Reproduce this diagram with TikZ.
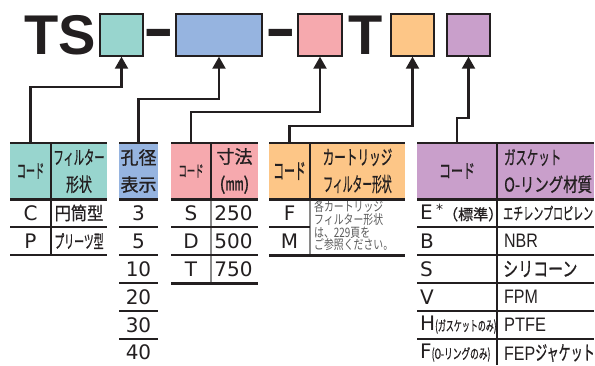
\documentclass[tikz,border=0pt]{standalone}
\usepackage{fontspec}
\usepackage{graphicx}
\setmainfont{DejaVu Sans}
\newfontfamily\jpl{Noto Sans CJK JP}
\newfontfamily\jp{Noto Sans CJK JP}[FakeBold=0.9]
\newfontfamily\arial{Liberation Sans}
\usetikzlibrary{arrows.meta}
\newcommand{\cnd}[2]{\scalebox{#1}[1]{#2}}
\definecolor{cline}{HTML}{231F20}
\definecolor{cgray}{HTML}{8A8A8A}
\definecolor{cteal}{HTML}{98D5CE}
\definecolor{cblue}{HTML}{96B4E0}
\definecolor{cpink}{HTML}{F6A9AE}
\definecolor{corange}{HTML}{FDC687}
\definecolor{cpurple}{HTML}{C99FCB}
\definecolor{cnote}{HTML}{5A5A5A}
\begin{document}
\begin{tikzpicture}[x=1pt,y=-1pt,
  topbox/.style={draw=cline, line width=1.4pt, inner sep=0, minimum height=42pt},
  ttl/.style={font=\arial\bfseries\fontsize{56}{56}\selectfont, text=cline, inner sep=0},
  hyph/.style={font=\arial\bfseries\fontsize{40}{40}\selectfont, text=cline, inner sep=0, anchor=base},
  conn/.style={draw=cline, line width=2.2pt, -{Triangle[width=13pt,length=12pt]}},
  hcell/.style={inner sep=0, minimum height=56pt, text=cline},
  hjp/.style={font=\jp\fontsize{#1}{27}\selectfont, text=cline, inner sep=0, align=center},
  lat/.style={font=\fontsize{20}{20}\selectfont, text=cline, inner sep=0},
  jpc/.style={font=\jp\fontsize{#1}{#1}\selectfont, text=cline, inner sep=0},
  nar/.style={font=\arial\fontsize{19.5}{19.5}\selectfont, text=cline, inner sep=0},
  topline/.style={draw=cline, line width=2.2pt},
  hbot/.style={draw=cline, line width=3pt},
  rsep/.style={draw=cline, line width=1.1pt},
  divd/.style={draw=cline, line width=1.1pt},
  divg/.style={draw=cgray, line width=1.1pt},
  notetxt/.style={font=\jpl\fontsize{13}{12.9}\selectfont, text=cnote, inner sep=0, align=left}
]
\useasboundingbox (0,0) rectangle (595,365);

% ---- code line ----
\node[ttl] (ts) at (60,35) {TS};
\node[topbox, fill=cteal, minimum width=43pt] (bt) at (121.5,35) {};
\node[hyph] (h1) at (159,48) {\scalebox{2.3}[1.5]{-}};
\node[topbox, fill=cblue, minimum width=86pt] (bb) at (219,35) {};
\node[hyph] (h2) at (281,48) {\scalebox{2.3}[1.5]{-}};
\node[topbox, fill=cpink, minimum width=44pt] (bp) at (320,35) {};
\node[ttl] (tt) at (366,35) {T};
\node[topbox, fill=corange, minimum width=43pt] (bo) at (412.5,35) {};
\node[topbox, fill=cpurple, minimum width=43pt] (bv) at (468.5,35) {};

% ---- header cells ----
\node[hcell, fill=cteal, minimum width=41pt] (tc1) at (30.5,171) {};
\node[hcell, fill=cteal, minimum width=56pt] (tc2) at (79,171) {};
\node[hcell, fill=cblue, minimum width=39pt] (bh) at (138.5,171) {};
\node[hcell, fill=cpink, minimum width=40pt] (pc1) at (191,171) {};
\node[hcell, fill=cpink, minimum width=47pt] (pc2) at (234.5,171) {};
\node[hcell, fill=corange, minimum width=41pt] (oc1) at (289.5,171) {};
\node[hcell, fill=corange, minimum width=95pt] (oc2) at (357.5,171) {};
\node[hcell, fill=cpurple, minimum width=80pt] (vc1) at (457,171) {};
\node[hcell, fill=cpurple, minimum width=97pt] (vc2) at (545.5,171) {};

% header texts
\node[hjp=19] (tt1) at (tc1) {\cnd{0.48}{コード}};
\node[hjp=19] (tt2) at (tc2) {\cnd{0.54}{フィルター}\\\cnd{0.68}{形状}};
\node[hjp=18] (bt1) at (bh) {孔径\\表示};
\node[hjp=16] (pt1) at (pc1) {\cnd{0.52}{コード}};
\node[hjp=18] (pt2) at (pc2) {寸法\\(㎜)};
\node[hjp=22] (ot1) at (oc1) {\cnd{0.49}{コード}};
\node[hjp=20] (ot2) at (oc2) {\cnd{0.58}{カートリッジ}\\\cnd{0.49}{フィルター形状}};
\node[hjp=19] (vt1) at (vc1) {\cnd{0.63}{コード}};
\node[hjp=19, align=left, anchor=west] (vt2) at (504,171) {\cnd{0.6}{ガスケット}\\\cnd{0.76}{O-リング材質}};

% ---- rules ----
\draw[topline] (10,143) -- (107,143);
\draw[topline] (119,143) -- (158,143);
\draw[topline] (171,143) -- (258,143);
\draw[topline] (269,143) -- (405,143);
\draw[topline] (417,143) -- (594,143);
\draw[divd] (51,143) -- (51,255);
\draw[divd] (211,143) -- (211,199);
\draw[divg] (211,199) -- (211,283);
\draw[divd] (310,143) -- (310,199);
\draw[divg] (310,199) -- (310,255);
\draw[divd] (497,143) -- (497,365);
\draw[hbot] (10,199) -- (107,199);
\draw[hbot] (119,199) -- (158,199);
\draw[hbot] (171,199) -- (258,199);
\draw[hbot] (269,199) -- (405,199);
\draw[hbot] (417,199) -- (594,199);
% teal
\draw[rsep] (10,227) -- (107,227);
\draw[rsep, line width=1.5pt] (10,255) -- (107,255);
% blue
\foreach \yy in {227,255,283,311,339} \draw[rsep] (119,\yy) -- (158,\yy);
% pink
\draw[rsep] (171,227) -- (258,227);
\draw[rsep] (171,255) -- (258,255);
\draw[hbot] (171,283) -- (258,283);
% orange
\draw[rsep] (269,227) -- (310,227);
\draw[hbot] (269,255) -- (405,255);
% purple
\foreach \yy in {227,255,283,311,339} \draw[rsep] (417,\yy) -- (594,\yy);

% ---- connectors ----
\draw[conn] (tc1.north) -- ++(0,-56) -| (bt.south);
\draw[conn] (bh.north) -- ++(0,-44) -| (bb.south);
\draw[conn] (pc1.north) -- ++(0,-31) -| (bp.south);
\draw[conn] (oc1.north) -- ++(0,-17) -| (bo.south);
\draw[conn] (vc1.north) -- ++(0,-25) -| (bv.south);

% ---- teal rows ----
\node[lat] (tC) at (30.5,213) {C};
\node[jpc=18] (tC2) at (79,213) {\cnd{0.9}{円筒型}};
\node[jpc=18] (tP2) at (79,241) {\cnd{0.55}{プリーツ型}};
\node[lat] (tP) at (30.5,241) {P};

% ---- blue rows ----
\node[lat] (n3) at (138.5,213) {3};
\node[lat] (n5) at (138.5,241) {5};
\node[lat] (n10) at (138.5,269) {10};
\node[lat] (n20) at (138.5,297) {20};
\node[lat] (n30) at (138.5,325) {30};
\node[lat] (n40) at (138.5,352) {40};

% ---- pink rows ----
\node[lat] (pS) at (191,213) {S};
\node[lat] (p250) at (233.5,213) {250};
\node[lat] (pD) at (191,241) {D};
\node[lat] (p500) at (233.5,241) {500};
\node[lat] (pT) at (191,269) {T};
\node[lat] (p750) at (233.5,269) {750};

% ---- orange rows ----
\node[lat] (oF) at (289.5,213) {F};
\node[lat] (oM) at (289.5,241) {M};
\node[notetxt, anchor=north west] (onote) at (314,200) {\cnd{0.76}{各カートリッジ}\\\cnd{0.76}{フィルター形状}\\\cnd{0.76}{は、229頁を}\\\cnd{0.76}{ご参照ください。}};

% ---- purple rows ----
\node[lat, anchor=west] (vE) at (420,213) {E\,\raisebox{5pt}{\fontsize{14}{14}\selectfont *}\jp\fontsize{15}{15}\selectfont （標準）};
\node[jpc=17, anchor=west] (vE2) at (503,213) {\cnd{0.59}{エチレンプロピレン}};
\node[lat, anchor=west] (vB) at (420,241) {B};
\node[nar, anchor=west] (vB2) at (504,241) {\cnd{0.82}{NBR}};
\node[lat, anchor=west] (vS) at (420,269) {S};
\node[jpc=20, anchor=west] (vS2) at (503,269) {\cnd{0.75}{シリコーン}};
\node[lat, anchor=west] (vV) at (420,297) {V};
\node[nar, anchor=west] (vV2) at (504,297) {\cnd{0.82}{FPM}};
\node[lat, anchor=west] (vH) at (420,325) {H{\jp\fontsize{14}{14}\selectfont\cnd{0.57}{(ガスケットのみ)}}};
\node[nar, anchor=west] (vH2) at (504,325) {\cnd{0.84}{PTFE}};
\node[lat, anchor=west] (vF) at (420,353) {F{\jp\fontsize{14}{14}\selectfont\cnd{0.62}{(O-リングのみ)}}};
\node[nar, anchor=west] (vF2) at (504,353) {\cnd{0.82}{FEP}{\jp\fontsize{20}{20}\selectfont\cnd{0.6}{ジャケット}}};
\end{tikzpicture}
\end{document}
